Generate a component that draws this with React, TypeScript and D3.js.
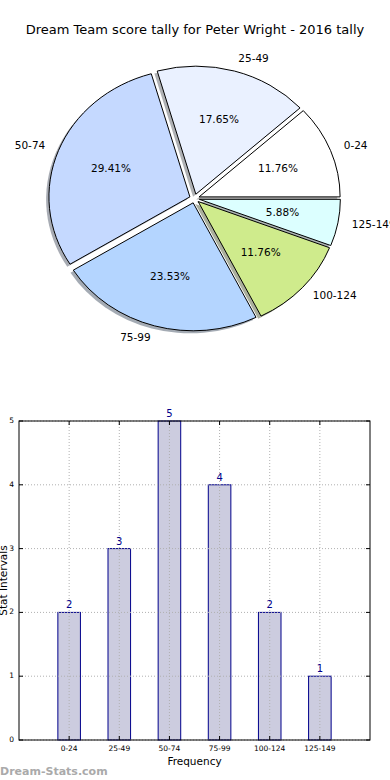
import * as d3 from "d3";
import React from "react";

const categories = ["0-24", "25-49", "50-74", "75-99", "100-124", "125-149"];
const counts = [2, 3, 5, 4, 2, 1];
const pieColors = ["#ffffff", "#eaf1ff", "#c5d9ff", "#b4d5ff", "#cfeb8c", "#dcffff"];
const yTicks = [0, 1, 2, 3, 4, 5];

const title = "Dream Team score tally for Peter Wright - 2016 tally";
const font = "DejaVu Sans, sans-serif";

export default function App() {
  const width = 390;
  const height = 780;

  // pie (matplotlib style: starts at 3 o'clock, counterclockwise, stretched axes)
  const cx = 194.5;
  const cy = 198.5;
  const rx = 141;
  const ry = 128;
  const explode = 0.035;
  const total = d3.sum(counts);

  const pie = d3.pie<number>().sort(null).startAngle(Math.PI / 2).endAngle(Math.PI / 2 - 2 * Math.PI);
  const arcs = pie(counts);
  const arc = d3.arc<d3.PieArcDatum<number>>().innerRadius(0).outerRadius(1);

  const slices = arcs.map((a, i) => {
    const mid = (a.startAngle + a.endAngle) / 2;
    const ux = Math.sin(mid);
    const uy = -Math.cos(mid);
    const x = cx + explode * rx * ux;
    const y = cy + explode * ry * uy;
    return { a, i, ux, uy, x, y };
  });

  // bar chart
  const m = { left: 19, right: 370, top: 421, bottom: 740 };
  const xScale = d3.scaleLinear().domain([-1, 6]).range([m.left, m.right]);
  const yScale = d3.scaleLinear().domain([0, 5]).range([m.bottom, m.top]);
  const barW = xScale(0.45) - xScale(0);

  return (
    <svg width={width} height={height} style={{ position: "absolute", left: 0, top: 0, background: "#fff" }} fontFamily={font}>
      <text x={195} y={34} textAnchor="middle" fontSize={13}>{title}</text>

      {/* shadows */}
      {slices.map((s) => (
        <path
          key={"sh" + s.i}
          d={arc(s.a) || ""}
          transform={`translate(${s.x - 0.02 * rx},${s.y + 0.02 * ry}) scale(${rx},${ry})`}
          fill={d3.rgb(pieColors[s.i]).darker(2.5).toString()}
          opacity={0.5}
        />
      ))}
      {slices.map((s) => (
        <path
          key={"w" + s.i}
          d={arc(s.a) || ""}
          transform={`translate(${s.x},${s.y}) scale(${rx},${ry})`}
          fill={pieColors[s.i]}
          stroke="#000"
          strokeWidth={1}
          vectorEffect="non-scaling-stroke"
        />
      ))}
      {slices.map((s) => (
        <text
          key={"l" + s.i}
          x={s.x + 1.1 * rx * s.ux}
          y={s.y + 1.1 * ry * s.uy}
          textAnchor={s.ux > 0 ? "start" : "end"}
          dominantBaseline="middle"
          fontSize={10.5}
        >
          {categories[s.i]}
        </text>
      ))}
      {slices.map((s) => (
        <text
          key={"p" + s.i}
          x={s.x + 0.6 * rx * s.ux}
          y={s.y + 0.6 * ry * s.uy}
          textAnchor="middle"
          dominantBaseline="middle"
          fontSize={10.5}
        >
          {((counts[s.i] / total) * 100).toFixed(2) + "%"}
        </text>
      ))}

      {/* bars */}
      {counts.map((v, i) => (
        <rect
          key={"b" + i}
          x={xScale(i) - barW / 2}
          y={yScale(v)}
          width={barW}
          height={yScale(0) - yScale(v)}
          fill="#ccccdf"
          stroke="#00008b"
          strokeWidth={1}
        />
      ))}

      {/* grid */}
      {yTicks.map((t) => (
        <line key={"gy" + t} x1={m.left} x2={m.right} y1={yScale(t)} y2={yScale(t)} stroke="#b0b0b0" strokeDasharray="1,2" />
      ))}
      {categories.map((c, i) => (
        <line key={"gx" + c} x1={xScale(i)} x2={xScale(i)} y1={m.top} y2={m.bottom} stroke="#b0b0b0" strokeDasharray="1,2" />
      ))}

      {/* ticks */}
      {yTicks.map((t) => (
        <g key={"ty" + t}>
          <line x1={m.left} x2={m.left + 4} y1={yScale(t)} y2={yScale(t)} stroke="#000" />
          <line x1={m.right - 4} x2={m.right} y1={yScale(t)} y2={yScale(t)} stroke="#000" />
          <text x={m.left - 5} y={yScale(t)} textAnchor="end" dominantBaseline="middle" fontSize={7.5}>{t}</text>
        </g>
      ))}
      {categories.map((c, i) => (
        <g key={"tx" + c}>
          <line x1={xScale(i)} x2={xScale(i)} y1={m.bottom} y2={m.bottom - 4} stroke="#000" />
          <line x1={xScale(i)} x2={xScale(i)} y1={m.top} y2={m.top + 4} stroke="#000" />
          <text x={xScale(i)} y={m.bottom + 11} textAnchor="middle" fontSize={7.5}>{c}</text>
        </g>
      ))}

      <rect x={m.left} y={m.top} width={m.right - m.left} height={m.bottom - m.top} fill="none" stroke="#000" strokeWidth={1} />

      {counts.map((v, i) => (
        <text key={"v" + i} x={xScale(i)} y={yScale(v) - 4} textAnchor="middle" fontSize={10} fill="#00008b">{v}</text>
      ))}

      <text x={(m.left + m.right) / 2} y={765} textAnchor="middle" fontSize={10.5}>Frequency</text>
      <text transform={`translate(7,${(m.top + m.bottom) / 2}) rotate(-90)`} textAnchor="middle" fontSize={10.5}>Stat Intervals</text>

      <text x={0} y={775} fontSize={11} fontWeight="bold" fill="#aaaaaa">Dream-Stats.com</text>
    </svg>
  );
}
